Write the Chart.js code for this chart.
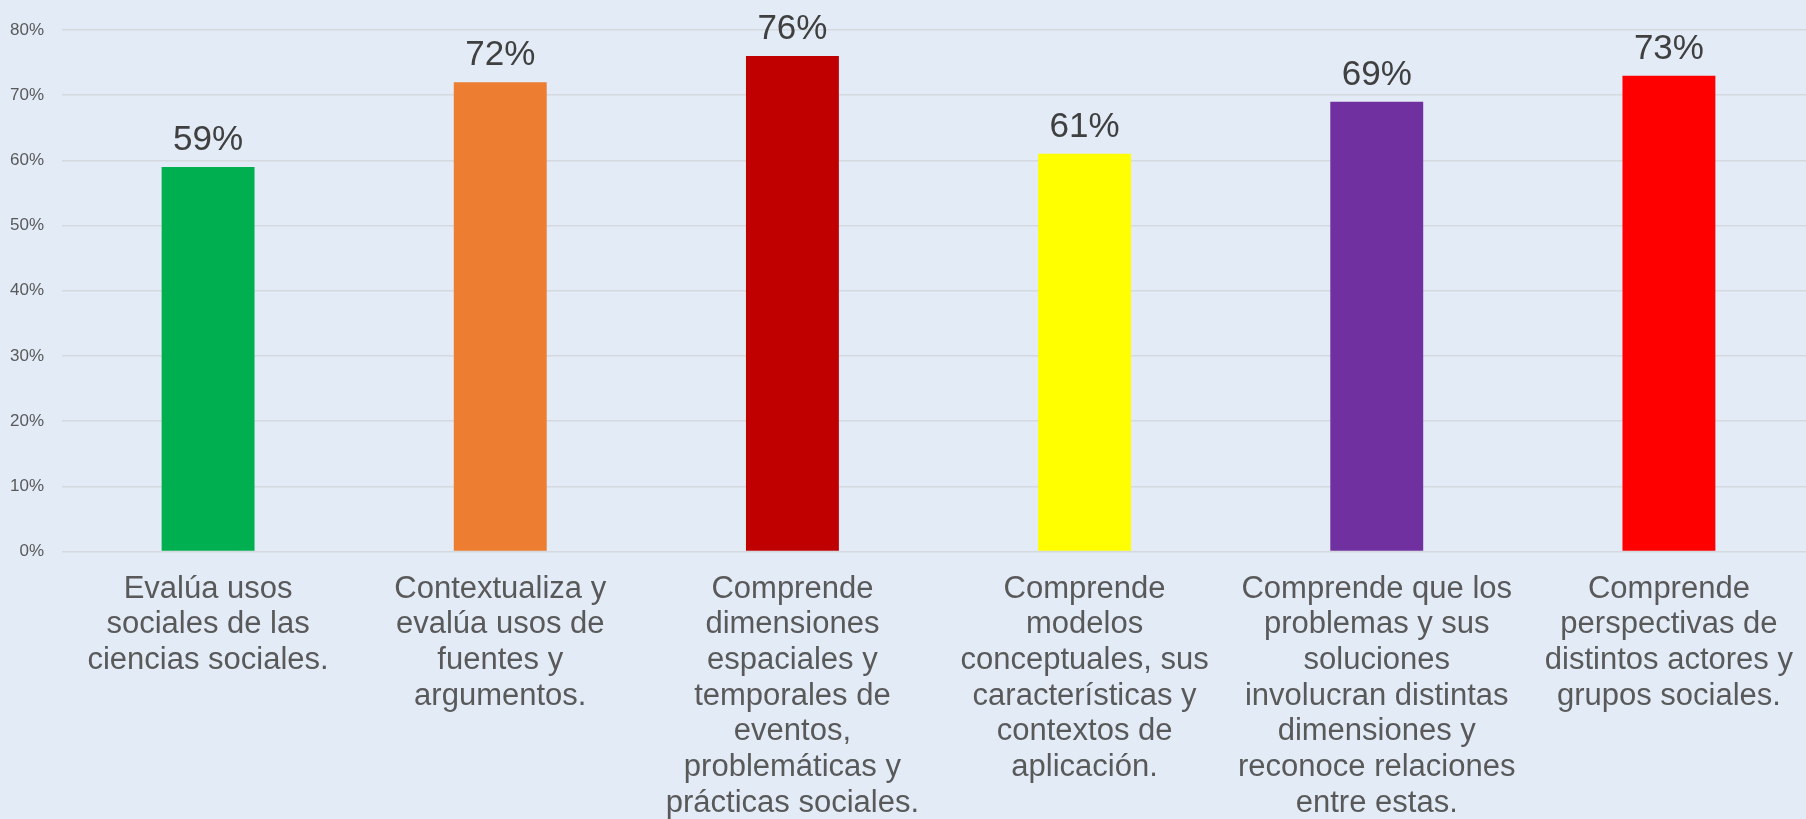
<!DOCTYPE html>
<html>
<head>
<meta charset="utf-8">
<script src="https://cdn.jsdelivr.net/npm/chart.js@4/dist/chart.umd.min.js"></script>
<style>
  html, body { margin: 0; padding: 0; overflow: hidden; background: #e3ebf7; }
  #wrap { position: absolute; left: 0; top: 0; width: 1815px; height: 833px; }
</style>
</head>
<body>
<div id="wrap"><canvas id="chart"></canvas></div>
<script>
// category labels, already split into lines as in the picture
const categories = [
  ['Evalúa usos', 'sociales de las', 'ciencias sociales.'],
  ['Contextualiza y', 'evalúa usos de', 'fuentes y', 'argumentos.'],
  ['Comprende', 'dimensiones', 'espaciales y', 'temporales de', 'eventos,', 'problemáticas y', 'prácticas sociales.'],
  ['Comprende', 'modelos', 'conceptuales, sus', 'características y', 'contextos de', 'aplicación.'],
  ['Comprende que los', 'problemas y sus', 'soluciones', 'involucran distintas', 'dimensiones y', 'reconoce relaciones', 'entre estas.'],
  ['Comprende', 'perspectivas de', 'distintos actores y', 'grupos sociales.']
];
const percentages = [59, 72, 76, 61, 69, 73];
const barColors = ['#00b050', '#ed7d31', '#c00000', '#ffff00', '#7030a0', '#ff0000'];
const yTicks = [0, 10, 20, 30, 40, 50, 60, 70, 80];

const FONT = '"Liberation Sans", Arial, sans-serif';

// draw the value above each bar
const valueLabels = {
  id: 'valueLabels',
  afterDatasetsDraw(chart) {
    const ctx = chart.ctx;
    const meta = chart.getDatasetMeta(0);
    ctx.save();
    ctx.font = '35px ' + FONT;
    ctx.fillStyle = '#404040';
    ctx.textAlign = 'center';
    ctx.textBaseline = 'alphabetic';
    meta.data.forEach((bar, i) => {
      ctx.fillText(percentages[i] + '%', bar.x, bar.y - 17);
    });
    ctx.restore();
  }
};

new Chart(document.getElementById('chart'), {
  type: 'bar',
  data: {
    labels: categories,
    datasets: [{
      data: percentages,
      backgroundColor: barColors,
      borderWidth: 0,
      categoryPercentage: 1,
      barPercentage: 0.318
    }]
  },
  options: {
    responsive: true,
    maintainAspectRatio: false,
    animation: false,
    layout: { padding: { top: 30, left: 10, right: 0, bottom: 0 } },
    plugins: {
      legend: { display: false },
      tooltip: { enabled: false }
    },
    scales: {
      x: {
        grid: { display: false },
        border: { display: false },
        // long wrapped labels must not push the plot inwards
        afterFit(axis) { axis.paddingLeft = 0; axis.paddingRight = 0; },
        ticks: {
          autoSkip: false,
          maxRotation: 0,
          minRotation: 0,
          padding: 12,
          color: '#595959',
          font: { family: FONT, size: 31, lineHeight: 1.15 }
        }
      },
      y: {
        min: 0,
        max: 80,
        afterBuildTicks(axis) { axis.ticks = yTicks.map(v => ({ value: v })); },
        afterFit(axis) { axis.width = 52; },
        grid: { color: '#d5d9de', lineWidth: 1.5, drawTicks: false },
        border: { display: false },
        ticks: {
          padding: 18,
          color: '#595959',
          font: { family: FONT, size: 17 },
          callback: v => v + '%'
        }
      }
    }
  },
  plugins: [valueLabels]
});
</script>
</body>
</html>
